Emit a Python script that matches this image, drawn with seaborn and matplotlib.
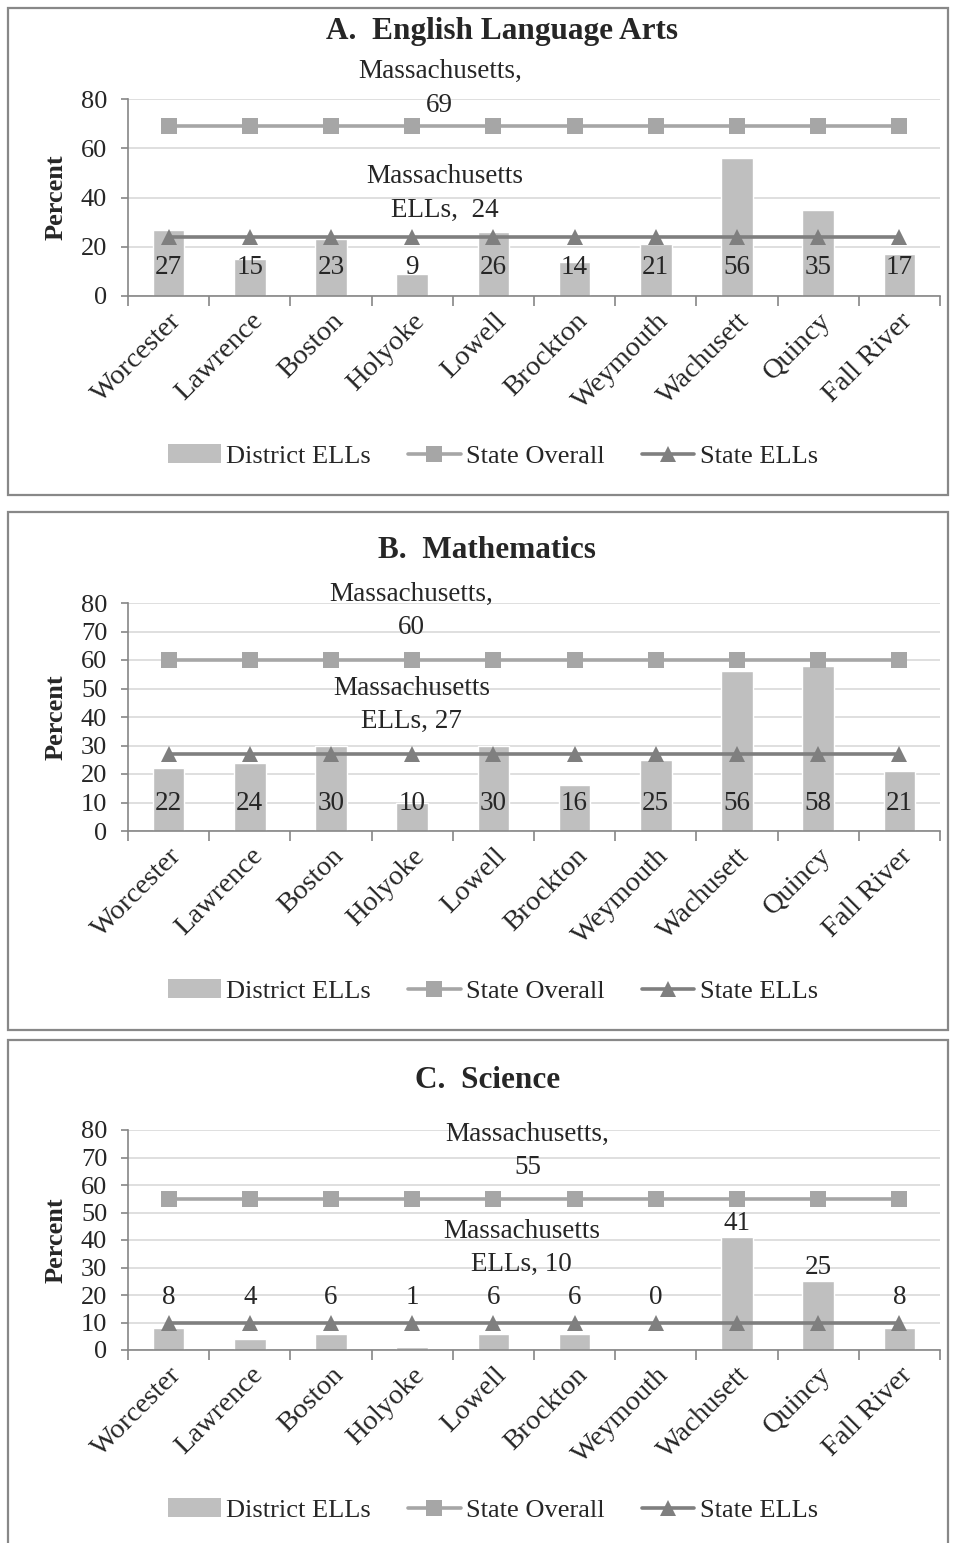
import numpy as np
import pandas as pd
import seaborn as sns
import matplotlib.pyplot as plt
from matplotlib.patches import Rectangle
from matplotlib.lines import Line2D

# dati
distretti = ['Worcester', 'Lawrence', 'Boston', 'Holyoke', 'Lowell',
             'Brockton', 'Weymouth', 'Wachusett', 'Quincy', 'Fall River']
ela_distretto = [27, 15, 23, 9, 26, 14, 21, 56, 35, 17]
mat_distretto = [22, 24, 30, 10, 30, 16, 25, 56, 58, 21]
sci_distretto = [8, 4, 6, 1, 6, 6, 0, 41, 25, 8]
ela_stato, ela_stato_ell = 69, 24
mat_stato, mat_stato_ell = 60, 27
sci_stato, sci_stato_ell = 55, 10
titoli = ['A.  English Language Arts', 'B.  Mathematics', 'C.  Science']
nota_stato = ['Massachusetts,\n69', 'Massachusetts,\n60', 'Massachusetts,\n55']
nota_ell = ['Massachusetts\nELLs,  24', 'Massachusetts\nELLs, 27', 'Massachusetts\nELLs, 10']

sns.set_theme(style='white')
plt.rcParams['font.family'] = ['Liberation Serif', 'DejaVu Serif']

W, H = 955, 1543
fig = plt.figure(figsize=(W / 100, H / 100), dpi=100)

C_BAR = '#bfbfbf'
C_TOT = '#a6a6a6'
C_ELL = '#7f7f7f'

# layout in pixel: asse (top, bot), riquadro, titolo, legenda, posizione note
pannelli = [
    dict(top=99, bot=296, step=20, box=(8, 8, 948, 495), ty=32, tx=502, ly=456,
         n1=(3.34, 84.3), n2=(3.40, 41.6), dist=ela_distretto, st=ela_stato, ell=ela_stato_ell, dentro=True),
    dict(top=603, bot=831, step=10, box=(8, 512, 948, 1030), ty=550, tx=487, ly=991,
         n1=(2.99, 77.2), n2=(2.99, 44.2), dist=mat_distretto, st=mat_stato, ell=mat_stato_ell, dentro=True),
    dict(top=1130, bot=1350, step=10, box=(8, 1040, 948, 1560), ty=1080, tx=488, ly=1510,
         n1=(4.42, 72.4), n2=(4.35, 37.1), dist=sci_distretto, st=sci_stato, ell=sci_stato_ell, dentro=False),
]

for k, p in enumerate(pannelli):
    x0, y0, x1, y1 = p['box']
    fig.patches.append(Rectangle((x0 / W, 1 - y1 / H), (x1 - x0) / W, (y1 - y0) / H,
                                 transform=fig.transFigure, fill=False,
                                 edgecolor='#888888', linewidth=1.6))

    ax = fig.add_axes([128 / W, 1 - p['bot'] / H, 812 / W, (p['bot'] - p['top']) / H])
    df = pd.DataFrame({'Distretto': distretti, 'Valore': p['dist']})
    pos = np.arange(len(distretti))

    sns.barplot(data=df, x='Distretto', y='Valore', color=C_BAR, width=0.39,
                saturation=1, ax=ax, zorder=2)
    sns.lineplot(x=pos, y=[p['st']] * len(pos), color=C_TOT, linewidth=2.6,
                 marker='s', markersize=11, markeredgewidth=0, ax=ax, zorder=3)
    sns.lineplot(x=pos, y=[p['ell']] * len(pos), color=C_ELL, linewidth=2.6,
                 marker='^', markersize=12, markeredgewidth=0, ax=ax, zorder=4)

    ax.set_xlim(-0.5, len(distretti) - 0.5)
    ax.set_ylim(0, 80)
    ax.set_yticks(np.arange(0, 81, p['step']))
    ax.yaxis.grid(True, color='#d9d9d9', linewidth=1.2, zorder=0)
    ax.set_axisbelow(True)
    for s in ['top', 'right']:
        ax.spines[s].set_visible(False)
    for s in ['left', 'bottom']:
        ax.spines[s].set_color('#868686')
        ax.spines[s].set_linewidth(1.2)

    ax.set_xticks(pos)
    ax.set_xticklabels(distretti, rotation=45, ha='right', rotation_mode='anchor',
                       fontsize=20.5)
    ax.set_xticks(np.arange(-0.5, len(distretti)), minor=True)
    ax.tick_params(axis='x', which='major', length=0, pad=9)
    ax.tick_params(axis='x', which='minor', length=7, width=1.2, color='#868686',
                   direction='out', bottom=True)
    ax.tick_params(axis='y', length=5, width=1.2, color='#868686', direction='out',
                   left=True, pad=10, labelsize=19)
    ax.set_xlabel('')
    ax.set_ylabel('Percent', fontsize=19, fontweight='bold')
    ax.yaxis.set_label_coords(-0.075, 0.5)

    # etichette dei valori
    for i, v in enumerate(p['dist']):
        if p['dentro']:
            ax.annotate(str(v), (i, 0), xytext=(0, 28), textcoords='offset pixels',
                        ha='center', va='center', fontsize=19.5, zorder=6)
        else:
            ax.text(i, max(v + 5, 19), str(v), ha='center', va='center',
                    fontsize=19.5, zorder=6)

    ax.text(*p['n1'], nota_stato[k], ha='center', va='center', fontsize=19.5,
            linespacing=1.45, zorder=6)
    ax.text(*p['n2'], nota_ell[k], ha='center', va='center', fontsize=19.5,
            linespacing=1.45, zorder=6)

    fig.text(p['tx'] / W, 1 - p['ty'] / H, titoli[k], ha='center', va='center',
             fontsize=22.5, fontweight='bold')

    maniglie = [
        Rectangle((0, 0), 1, 1, facecolor=C_BAR, edgecolor='none'),
        Line2D([], [], color=C_TOT, linewidth=2.6, marker='s', markersize=11, markeredgewidth=0),
        Line2D([], [], color=C_ELL, linewidth=2.6, marker='^', markersize=12, markeredgewidth=0),
    ]
    fig.legend(maniglie, ['District ELLs', 'State Overall', 'State ELLs'],
               loc='center', bbox_to_anchor=(493 / W, 1 - p['ly'] / H), ncol=3,
               frameon=False, fontsize=19, handlelength=2.0, handletextpad=0.2,
               columnspacing=1.4, handleheight=0.7)

fig.savefig('out.png', dpi=100)
